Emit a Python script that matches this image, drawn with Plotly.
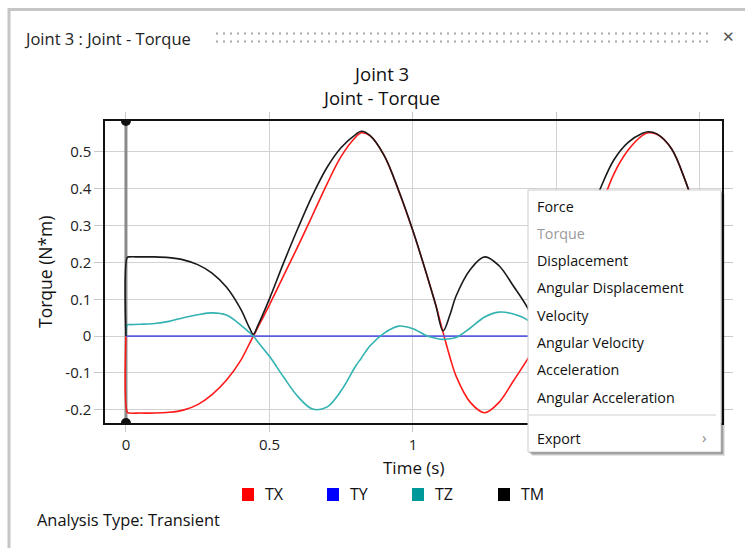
import plotly.graph_objects as go

# ---------------- data ----------------
time_s = [0, 0.005, 0.012, 0.05, 0.1, 0.15, 0.2, 0.25, 0.3, 0.35, 0.4, 0.43, 0.444, 0.46,
          0.5, 0.55, 0.6, 0.65, 0.7, 0.75, 0.8, 0.82, 0.85, 0.9, 0.95, 1.0,
          1.05, 1.08, 1.105, 1.13, 1.15, 1.2, 1.25, 1.3, 1.35, 1.4, 1.43, 1.444, 1.46,
          1.5, 1.55, 1.6, 1.65, 1.7, 1.75, 1.8, 1.82, 1.85, 1.9, 1.95, 2.0]

tx = [0, -0.207, -0.209, -0.209, -0.209, -0.207, -0.201, -0.186, -0.159, -0.12, -0.066, -0.021, 0.0, 0.024,
      0.085, 0.165, 0.245, 0.328, 0.412, 0.488, 0.54, 0.552, 0.544, 0.49, 0.395, 0.285,
      0.162, 0.083, 0.01, -0.06, -0.108, -0.18, -0.208, -0.18, -0.122, -0.062, -0.021, 0.0, 0.024,
      0.085, 0.165, 0.25, 0.34, 0.44, 0.505, 0.545, 0.552, 0.548, 0.51, 0.42, 0.30]

ty = [0.0] * 51

tz = [0, 0.031, 0.031, 0.032, 0.034, 0.04, 0.05, 0.058, 0.063, 0.057, 0.03, 0.01, 0.0, -0.016,
      -0.055, -0.112, -0.165, -0.198, -0.193, -0.148, -0.082, -0.06, -0.027, 0.008, 0.027, 0.02,
      0.0, -0.006, -0.009, -0.007, -0.004, 0.022, 0.052, 0.065, 0.06, 0.043, 0.01, 0.0, -0.016,
      -0.055, -0.112, -0.165, -0.198, -0.193, -0.148, -0.082, -0.06, -0.027, 0.008, 0.027, 0.02]

tm = [0, 0.214, 0.215, 0.215, 0.215, 0.213, 0.207, 0.194, 0.171, 0.133, 0.073, 0.023, 0.005, 0.029,
      0.101, 0.2, 0.294, 0.382, 0.457, 0.512, 0.547, 0.556, 0.545, 0.49, 0.396, 0.286,
      0.162, 0.083, 0.014, 0.06, 0.108, 0.181, 0.215, 0.191, 0.136, 0.076, 0.023, 0.005, 0.029,
      0.101, 0.2, 0.298, 0.395, 0.478, 0.526, 0.551, 0.555, 0.549, 0.51, 0.42, 0.30]

series_names = ["TX", "TY", "TZ", "TM"]
line_colors = ["#ff1a1a", "#5b5be0", "#33b2b2", "#1a1a1a"]
legend_colors = ["#ff0000", "#0000ff", "#009999", "#000000"]

x_tickvals = [0, 0.5, 1, 1.5, 2]
x_ticktext = ["0", "0.5", "1", "", ""]          # 1.5 and 2 are hidden by the menu
y_tickvals = [-0.2, -0.1, 0, 0.1, 0.2, 0.3, 0.4, 0.5]
y_ticktext = ["-0.2", "-0.1", "0", "0.1", "0.2", "0.3", "0.4", "0.5"]

x_range = [-0.073, 2.077]
y_range = [-0.236, 0.584]
cursor_t = 0

menu_items = ["Force", "Torque", "Displacement", "Angular Displacement", "Velocity",
              "Angular Velocity", "Acceleration", "Angular Acceleration"]
menu_disabled = ["Torque"]

# ---------------- layout helpers ----------------
W, H = 745, 548
L, R, T, B = 105, 722, 121, 423
FONT = "Open Sans, Segoe UI, sans-serif"


def px(x):
    return (x - L) / (R - L)


def py(y):
    return (B - y) / (B - T)


def text(s, x, y, size, color="#111111", anchor="left", angle=0, family=FONT):
    return dict(text=s, xref="paper", yref="paper", x=px(x), y=py(y), xanchor=anchor,
                yanchor="middle", showarrow=False, textangle=angle,
                font=dict(family=family, size=size, color=color))


fig = go.Figure()

# cursor line at t = 0
fig.add_trace(go.Scatter(x=[cursor_t, cursor_t], y=y_range, mode="lines+markers",
                         line=dict(color="#8a8a8a", width=3),
                         marker=dict(color="#111111", size=10),
                         hoverinfo="skip", showlegend=False, cliponaxis=True))

for name, vals, col in zip(series_names, [tx, ty, tz, tm], line_colors):
    fig.add_trace(go.Scatter(x=time_s, y=vals, mode="lines", name=name,
                             line=dict(color=col, width=1.6, shape="spline", smoothing=1.0,
                                       simplify=False),
                             showlegend=False))

shapes = []
annotations = []

# window frame
shapes.append(dict(type="line", xref="paper", yref="paper", x0=px(8), x1=px(760),
                   y0=py(9.5), y1=py(9.5), line=dict(color="#c6c6c6", width=3)))
shapes.append(dict(type="line", xref="paper", yref="paper", x0=px(9), x1=px(9),
                   y0=py(8), y1=py(560), line=dict(color="#c6c6c6", width=3)))
# dotted grip
for yy in (33.5, 41.5):
    shapes.append(dict(type="line", xref="paper", yref="paper", x0=px(216), x1=px(713),
                       y0=py(yy), y1=py(yy), line=dict(color="#a8a8a8", width=2, dash="2px,5px")))

annotations.append(text("Joint 3 : Joint - Torque", 22, 38, 16.5, "#222222"))
annotations.append(text("\u2715", 729, 37, 15, "#555555", "center", family="DejaVu Sans"))
# chart title (two lines)
annotations.append(text("Joint 3<br>Joint - Torque", 381, 86, 18.5, anchor="center"))
# axis titles
annotations.append(text("Torque (N*m)", 45, 272, 17.5, angle=-90, anchor="center"))
annotations.append(text("Time (s)", 413, 467, 17, anchor="center"))
# legend
legend_sq_x = [242, 327, 412, 498]
for name, col, lx in zip(series_names, legend_colors, legend_sq_x):
    shapes.append(dict(type="rect", xref="paper", yref="paper", x0=px(lx), x1=px(lx + 12),
                       y0=py(488), y1=py(501), fillcolor=col, line=dict(width=0)))
    annotations.append(text(name, lx + 21, 494, 16))
annotations.append(text("Analysis Type: Transient", 35, 519, 16.4))

# context menu with shadow
for i, op in enumerate([0.10, 0.14, 0.18, 0.22]):
    off = 4 - i
    shapes.append(dict(type="rect", xref="paper", yref="paper", x0=px(528 + off), x1=px(721 + off),
                       y0=py(452 + off), y1=py(190 + off), fillcolor="rgba(0,0,0,%s)" % op,
                       line=dict(width=0)))
shapes.append(dict(type="rect", xref="paper", yref="paper", x0=px(528), x1=px(721),
                   y0=py(452), y1=py(190), fillcolor="#ffffff", line=dict(color="#cccccc", width=1)))
shapes.append(dict(type="line", xref="paper", yref="paper", x0=px(529), x1=px(716),
                   y0=py(415), y1=py(415), line=dict(color="#cfcfcf", width=1)))
menu_y0, menu_dy = 206, 27.3
for i, item in enumerate(menu_items):
    annotations.append(text(item, 535, menu_y0 + i * menu_dy, 14.3,
                            "#9a9a9a" if item in menu_disabled else "#111111"))
annotations.append(text("Export", 535, 438, 14.3))
annotations.append(text("\u203a", 704, 437, 15, "#888888", "center"))

axis_common = dict(showgrid=True, gridcolor="#d2d2d2", gridwidth=1, zeroline=False,
                   showline=True, linecolor="#111111", linewidth=1.5, mirror="ticks",
                   ticks="outside", tickcolor="#c8c8c8", tickwidth=1,
                   tickfont=dict(family=FONT, size=15, color="#222222"))

fig.update_layout(
    width=W, height=H,
    margin=dict(l=L, r=W - R, t=T, b=H - B, pad=0),
    paper_bgcolor="white", plot_bgcolor="white",
    showlegend=False,
    xaxis=dict(range=x_range, tickvals=x_tickvals, ticktext=x_ticktext, ticklen=7, **axis_common),
    yaxis=dict(range=y_range, tickvals=y_tickvals, ticktext=y_ticktext, ticklen=9, **axis_common),
    shapes=shapes,
    annotations=annotations,
)

fig.write_html("out.html", config={"displayModeBar": False},
               post_script="document.body.style.margin='0';")
